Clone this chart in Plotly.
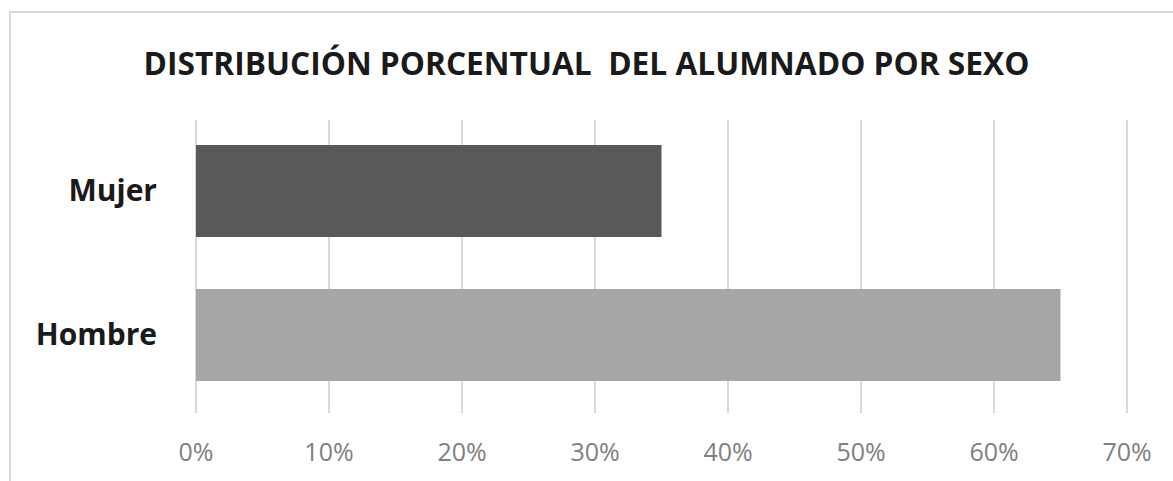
import plotly.graph_objects as go

# Share of students by sex (percent)
categories = ["Hombre", "Mujer"]
values = [65, 35]
bar_colors = ["#a6a6a6", "#595959"]
x_ticks = [0, 10, 20, 30, 40, 50, 60, 70]
x_tick_labels = ["0%", "10%", "20%", "30%", "40%", "50%", "60%", "70%"]
title_text = "DISTRIBUCIÓN PORCENTUAL  DEL ALUMNADO POR SEXO"

fig = go.Figure(
    go.Bar(
        x=values,
        y=categories,
        orientation="h",
        marker=dict(color=bar_colors, line=dict(width=0)),
        width=0.64,
        hoverinfo="x+y",
    )
)

# a small pad on both ends keeps the 0% and 70% gridlines visible
margin_l, margin_r, margin_t, margin_b = 192, 42, 120, 68
plot_w = 1173 - margin_l - margin_r
plot_h = 481 - margin_t - margin_b

fig.update_layout(
    width=1173,
    height=481,
    margin=dict(l=margin_l, r=margin_r, t=margin_t, b=margin_b),
    paper_bgcolor="white",
    plot_bgcolor="white",
    showlegend=False,
    title=dict(
        text=title_text,
        x=0.5,
        xref="container",
        xanchor="center",
        y=1 - 64 / 481,
        yref="container",
        yanchor="middle",
        font=dict(family="Open Sans", size=31.7, color="#1a1a1a", weight="bold"),
    ),
    xaxis=dict(
        range=[-0.3, 70.3],
        tickvals=x_ticks,
        ticktext=x_tick_labels,
        showgrid=True,
        gridcolor="#d9d9d9",
        gridwidth=2,
        zeroline=False,
        showline=False,
        ticks="",
        ticklabelstandoff=22,
        tickfont=dict(family="Open Sans", size=25, color="#808080"),
        fixedrange=True,
    ),
    yaxis=dict(
        categoryorder="array",
        categoryarray=categories,
        range=[-0.542, 1.493],
        showgrid=False,
        zeroline=False,
        showline=False,
        ticks="",
        ticklabelstandoff=34,
        tickfont=dict(family="Open Sans", size=30, color="#1a1a1a", weight="bold"),
        fixedrange=True,
    ),
    shapes=[
        dict(
            type="rect",
            xref="paper",
            yref="paper",
            x0=-(margin_l - 10) / plot_w,
            x1=1.2,
            y0=-0.5,
            y1=1 + (margin_t - 12) / plot_h,
            line=dict(color="#d9d9d9", width=2),
            fillcolor="rgba(0,0,0,0)",
            layer="below",
        )
    ],
)

fig.write_html("out.html")
